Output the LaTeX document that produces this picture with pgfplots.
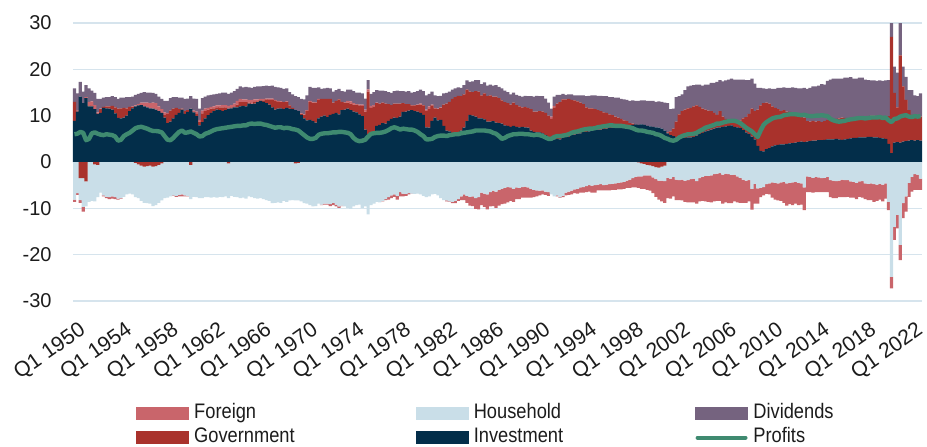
\documentclass[border=0pt]{standalone}
\usepackage{fontspec}
\setmainfont{Liberation Sans}[FakeStretch=0.87]
\newfontfamily\tickfam{Liberation Sans}
\usepackage{pgfplots}
\usepackage{pgfplotstable}
\pgfplotsset{compat=1.18}

\definecolor{fgnc}{RGB}{201,101,107}
\definecolor{govc}{RGB}{169,50,44}
\definecolor{hhc}{RGB}{201,222,232}
\definecolor{invc}{RGB}{3,46,74}
\definecolor{divc}{RGB}{117,99,127}
\definecolor{profc}{RGB}{63,138,112}
\definecolor{gridc}{RGB}{214,228,237}
\definecolor{txt}{RGB}{28,28,28}

% quarterly, 1950Q1 = 0 ... 2022Q4 = 291
\pgfplotstableread{
i inv gov fgn hh div prof
0 8.9 4.1 -0.5 -8.1 2.9 6.0
1 10.9 0.2 -0.4 -6.7 3.7 6.1
2 14.1 -3.5 -0.6 -4.7 3.2 6.5
3 12.7 -3.5 -1.0 -6.2 2.5 6.3
4 13.8 -4.2 0.2 -5.4 2.6 4.7
5 12.0 0.2 0.8 -8.6 2.9 5.0
6 12.0 0.1 1.0 -8.4 2.3 6.2
7 11.4 -0.5 0.9 -8.0 2.6 6.4
8 10.4 -0.6 0.3 -7.0 2.9 6.1
9 10.6 0.8 0.1 -6.6 2.1 5.9
10 11.7 0.2 -0.2 -7.2 2.0 5.8
11 11.6 0.4 -0.3 -7.5 2.0 6.0
12 11.5 0.5 -0.4 -7.6 2.0 5.9
13 11.3 0.8 -0.5 -7.4 2.1 5.8
14 10.5 1.3 -0.4 -7.6 2.2 5.5
15 9.5 2.0 -0.2 -7.9 2.1 4.6
16 9.4 2.2 -0.1 -7.8 2.3 4.8
17 9.6 2.1 0.0 -7.5 2.2 5.6
18 10.0 1.6 0.1 -7.0 2.3 6.0
19 11.0 0.9 0.0 -6.8 2.1 6.3
20 11.6 0.3 0.1 -7.0 2.1 6.8
21 12.0 -0.2 0.2 -7.4 2.3 7.3
22 12.2 -0.5 0.3 -7.3 2.2 7.5
23 12.3 -0.8 0.5 -7.6 2.1 7.6
24 12.0 -1.0 0.8 -7.8 2.3 7.4
25 11.8 -0.9 1.0 -8.0 2.2 7.2
26 11.6 -0.8 1.1 -8.2 2.3 6.9
27 11.5 -1.0 1.3 -8.5 2.1 6.7
28 11.3 -0.9 1.4 -8.4 2.0 6.7
29 11.0 -0.6 1.0 -8.2 2.1 6.6
30 10.6 -0.3 0.8 -8.0 2.2 6.4
31 9.6 0.5 0.6 -7.8 2.5 5.6
32 8.4 2.0 0.2 -7.7 2.6 4.8
33 8.7 2.4 0.0 -7.4 2.7 4.7
34 9.4 2.1 -0.1 -7.2 2.5 5.2
35 10.2 1.5 -0.2 -7.3 2.3 5.9
36 10.6 0.8 -0.3 -7.1 2.5 6.5
37 11.3 0.2 -0.4 -7.0 2.4 6.8
38 10.4 0.6 -0.2 -7.2 2.6 6.3
39 10.8 0.4 -0.1 -7.3 2.5 6.4
40 11.5 -0.6 0.1 -7.4 2.6 6.6
41 10.7 0.1 0.3 -7.5 2.6 6.3
42 9.9 0.5 0.5 -7.6 2.7 6.0
43 7.9 0.8 0.4 -7.8 2.4 5.5
44 8.6 1.9 0.6 -7.8 2.7 5.6
45 9.4 1.6 0.5 -7.6 2.6 6.1
46 10.1 1.2 0.4 -7.6 2.7 6.3
47 10.6 0.9 0.4 -7.7 2.6 6.6
48 11.0 0.6 0.4 -7.6 2.6 6.9
49 11.3 0.4 0.5 -7.7 2.5 7.1
50 11.2 0.6 0.4 -7.5 2.6 7.2
51 11.0 0.8 0.5 -7.6 2.7 7.3
52 11.2 0.5 0.6 -7.4 2.7 7.4
53 11.5 -0.3 0.6 -7.5 2.6 7.5
54 11.6 0.2 0.5 -7.3 2.7 7.6
55 11.8 0.1 0.7 -7.5 2.7 7.7
56 11.8 0.6 0.8 -7.6 2.6 7.8
57 12.0 0.9 0.7 -7.8 2.7 7.8
58 12.1 0.8 0.6 -7.7 2.6 7.9
59 12.0 0.9 0.6 -7.9 2.7 7.9
60 12.6 0.2 0.6 -7.4 2.7 8.2
61 12.5 0.1 0.8 -7.6 2.6 8.3
62 12.6 0.4 0.5 -7.8 2.7 8.2
63 12.9 0.2 0.4 -7.9 2.8 8.3
64 13.2 0.1 0.3 -7.8 2.7 8.3
65 13.0 0.3 0.3 -8.0 2.8 8.1
66 12.7 0.8 0.2 -8.2 2.8 8.0
67 12.4 1.0 0.3 -8.4 2.7 7.8
68 11.8 1.6 0.3 -8.9 2.8 7.6
69 11.3 1.9 0.2 -8.8 2.8 7.4
70 11.5 1.5 0.2 -8.7 2.9 7.5
71 11.6 1.4 0.1 -8.8 2.9 7.5
72 11.4 1.5 0.0 -8.4 2.9 7.3
73 11.7 1.3 0.1 -8.6 2.8 7.4
74 11.5 0.7 0.0 -8.3 2.9 7.3
75 11.4 0.3 0.0 -8.2 2.9 7.1
76 11.2 -0.3 0.0 -8.0 3.0 7.0
77 11.0 -0.2 0.0 -8.1 3.0 6.8
78 10.2 0.2 0.1 -8.5 3.1 6.3
79 9.4 0.8 0.1 -8.9 3.2 5.8
80 9.0 2.0 0.2 -9.0 3.2 5.3
81 9.1 3.8 0.3 -9.3 3.0 5.0
82 8.8 4.0 0.2 -9.6 3.0 5.0
83 8.5 4.3 0.1 -9.5 3.1 5.2
84 9.4 4.0 0.2 -9.0 2.5 5.9
85 9.8 3.8 -0.1 -9.2 2.2 6.1
86 10.0 3.6 -0.2 -9.0 2.3 6.2
87 9.7 3.9 -0.2 -9.0 2.4 6.2
88 10.2 3.4 -0.4 -9.1 2.3 6.3
89 10.4 2.4 -0.5 -8.8 2.4 6.4
90 10.6 2.6 -0.4 -9.2 2.3 6.4
91 10.3 3.2 -0.3 -9.6 2.3 6.5
92 11.2 1.8 -0.1 -9.4 2.3 6.5
93 11.3 1.5 0.1 -9.6 2.3 6.4
94 11.5 1.3 0.4 -9.9 2.4 6.3
95 11.2 1.4 0.5 -10.1 2.5 6.0
96 10.9 1.5 0.3 -9.6 2.6 5.2
97 10.7 1.7 0.1 -9.3 2.5 4.7
98 10.3 1.9 0.2 -9.2 2.6 4.5
99 9.9 2.2 0.3 -9.9 2.4 4.6
100 7.0 3.9 0.4 -9.6 2.4 4.8
101 6.0 9.2 0.5 -11.3 2.0 5.5
102 6.2 5.5 0.4 -9.3 2.6 6.1
103 6.4 5.6 0.3 -9.0 2.8 6.2
104 7.8 4.9 0.1 -8.6 2.7 6.3
105 8.0 4.6 0.0 -8.7 2.8 6.3
106 8.4 4.4 -0.1 -8.4 2.6 6.4
107 8.3 4.3 -0.2 -8.0 2.7 6.6
108 8.9 3.6 -0.5 -7.6 2.6 6.9
109 9.3 3.0 -0.6 -7.2 2.6 7.3
110 9.6 3.0 -0.5 -7.0 2.7 7.5
111 9.5 3.1 -0.8 -7.3 2.8 7.3
112 9.8 2.8 -0.9 -6.5 2.7 7.0
113 10.8 1.9 -0.6 -6.8 2.6 7.2
114 10.9 1.6 -0.4 -6.9 2.7 7.1
115 11.1 1.4 -0.3 -6.7 2.8 7.0
116 11.2 1.0 -0.1 -6.8 2.8 7.0
117 11.0 1.2 0.1 -6.9 2.8 6.8
118 10.9 1.4 0.1 -6.8 2.9 6.5
119 10.6 1.8 0.2 -7.0 3.0 6.0
120 10.2 2.0 0.1 -7.3 3.0 5.6
121 7.5 3.5 0.3 -7.6 3.1 4.9
122 7.4 4.0 0.6 -7.4 2.7 4.9
123 8.9 3.3 0.2 -7.0 2.8 5.0
124 9.6 2.0 0.1 -6.9 2.7 5.4
125 9.0 2.4 0.1 -7.2 2.7 5.6
126 9.1 2.6 0.1 -7.8 2.5 5.7
127 7.8 4.6 0.0 -8.2 2.4 5.7
128 6.8 5.8 -0.2 -8.3 2.3 5.6
129 6.6 6.4 -0.1 -8.5 2.2 5.8
130 6.3 7.3 -0.3 -8.6 2.0 5.9
131 6.0 8.0 -0.5 -8.4 1.9 6.0
132 6.4 7.9 -0.4 -8.0 1.8 6.0
133 6.8 7.4 -0.8 -7.4 1.8 6.2
134 7.4 7.2 -1.2 -7.0 2.0 6.3
135 8.8 6.8 -1.5 -7.3 2.0 6.4
136 10.2 5.0 -1.9 -7.5 2.1 6.5
137 10.0 5.1 -2.1 -7.4 2.3 6.6
138 9.8 5.5 -2.3 -7.8 2.4 6.8
139 9.4 5.8 -2.6 -7.6 2.5 6.8
140 9.4 5.0 -2.7 -6.6 2.4 6.8
141 9.2 5.6 -2.9 -6.8 2.4 6.8
142 8.7 5.5 -3.2 -7.0 2.3 6.7
143 8.7 5.7 -3.1 -6.5 2.3 6.6
144 8.8 5.3 -3.3 -6.2 2.4 6.3
145 8.5 5.6 -3.5 -6.4 2.5 6.1
146 8.4 5.4 -3.4 -6.0 2.4 5.6
147 8.3 5.0 -3.3 -5.8 2.6 5.0
148 7.9 5.0 -3.4 -5.6 2.5 5.2
149 7.8 4.9 -3.3 -5.4 2.4 5.6
150 7.6 4.8 -2.9 -5.5 2.2 5.8
151 7.8 5.0 -2.8 -5.8 2.2 6.0
152 7.6 4.7 -2.5 -5.5 2.2 6.0
153 7.5 4.5 -2.4 -5.6 2.3 6.1
154 7.6 4.2 -2.3 -5.4 2.3 6.1
155 7.5 4.4 -2.4 -5.3 2.4 6.0
156 7.4 4.3 -2.2 -5.5 2.5 6.0
157 6.8 4.6 -1.9 -5.8 2.8 5.9
158 6.5 4.4 -1.6 -6.0 3.2 5.8
159 6.4 4.5 -1.3 -6.1 3.4 5.9
160 6.4 4.6 -1.0 -6.2 3.2 5.8
161 6.2 4.7 -0.9 -6.1 3.3 5.6
162 5.8 4.8 -0.7 -6.4 3.1 5.3
163 5.0 5.0 -0.8 -6.5 2.8 5.0
164 4.8 4.5 0.5 -7.0 1.7 5.0
165 4.9 6.9 0.3 -7.4 2.0 5.4
166 5.0 7.6 -0.2 -7.2 1.9 5.6
167 4.9 8.0 -0.1 -7.6 1.6 5.6
168 5.2 8.3 -0.3 -7.3 1.2 5.7
169 5.5 8.0 -0.6 -6.6 1.0 5.8
170 5.4 8.2 -0.7 -6.4 1.0 6.0
171 5.8 7.6 -0.8 -6.2 1.2 6.3
172 5.9 7.4 -0.8 -5.9 1.1 6.5
173 6.1 7.0 -1.0 -5.8 1.3 6.6
174 6.2 6.6 -1.1 -5.5 1.6 6.8
175 6.5 6.0 -1.2 -5.4 1.9 7.0
176 6.5 5.3 -1.3 -5.2 2.4 7.1
177 6.6 5.0 -1.4 -5.0 2.7 7.2
178 6.7 4.9 -1.5 -5.1 2.8 7.2
179 6.9 4.5 -1.6 -5.0 3.0 7.3
180 7.0 4.2 -1.2 -4.9 3.1 7.5
181 7.0 4.0 -1.3 -4.8 3.3 7.6
182 7.1 3.6 -1.1 -5.0 3.5 7.7
183 7.2 3.4 -1.2 -4.9 3.6 7.8
184 7.3 3.0 -1.3 -4.8 3.7 7.9
185 7.4 2.7 -1.3 -4.7 3.9 7.9
186 7.5 2.3 -1.4 -4.6 4.1 7.8
187 7.6 2.0 -1.4 -4.5 4.3 7.8
188 7.7 1.6 -1.5 -4.4 4.3 7.8
189 7.8 1.2 -1.5 -4.3 4.5 7.7
190 7.9 0.9 -1.6 -4.0 4.6 7.6
191 7.8 0.6 -1.8 -3.8 4.8 7.5
192 8.0 0.3 -2.0 -3.5 5.0 7.3
193 8.1 0.1 -2.3 -3.2 5.0 7.0
194 8.0 -0.1 -2.5 -3.0 5.2 6.8
195 8.1 -0.3 -2.7 -2.8 5.2 6.8
196 8.0 -0.4 -2.9 -2.5 5.3 6.7
197 7.8 -0.6 -3.1 -2.3 5.4 6.5
198 7.7 -0.7 -3.3 -2.2 5.5 6.4
199 7.6 -0.9 -3.4 -2.4 5.6 6.3
200 7.5 -1.1 -3.8 -2.6 5.5 6.0
201 7.4 -1.2 -4.1 -2.8 5.7 5.9
202 7.2 -1.0 -4.5 -3.0 5.8 5.6
203 6.8 -0.8 -4.7 -3.3 6.0 5.2
204 6.2 0.2 -4.4 -3.4 6.3 5.0
205 5.8 0.8 -4.3 -3.6 4.8 4.7
206 5.6 1.6 -4.2 -3.2 4.3 4.6
207 5.3 3.4 -4.4 -3.8 5.3 4.8
208 5.1 5.2 -4.3 -3.9 3.9 5.3
209 5.2 5.8 -4.5 -3.8 3.6 5.6
210 5.2 6.1 -4.6 -4.0 4.2 5.8
211 5.3 6.3 -4.8 -3.9 4.7 6.0
212 5.3 6.4 -5.0 -3.7 4.8 6.0
213 5.4 6.6 -5.1 -3.6 4.6 6.1
214 5.7 6.5 -4.9 -4.1 4.5 6.3
215 6.0 5.9 -5.0 -3.5 4.8 6.7
216 6.3 5.2 -5.2 -3.2 5.0 7.0
217 6.6 4.7 -5.5 -3.0 5.4 7.4
218 6.8 4.3 -5.6 -3.0 5.6 7.6
219 7.0 4.0 -5.8 -2.9 6.1 7.8
220 7.2 3.4 -5.9 -2.6 6.5 8.0
221 7.4 2.8 -5.9 -2.5 7.1 8.3
222 7.5 3.5 -6.0 -2.4 6.7 8.3
223 7.6 2.2 -6.3 -2.7 7.6 8.5
224 7.7 1.6 -6.2 -2.5 8.3 8.7
225 7.8 1.4 -6.3 -2.6 8.6 8.8
226 7.9 1.2 -6.1 -2.8 8.9 8.9
227 7.6 1.0 -5.8 -2.7 9.2 8.9
228 7.5 1.2 -5.6 -3.1 9.1 8.7
229 7.3 1.7 -5.4 -3.4 8.8 8.4
230 6.9 2.5 -5.0 -3.8 8.4 7.9
231 6.4 3.3 -4.8 -4.0 8.0 7.4
232 6.0 4.4 -4.6 -3.9 7.3 7.0
233 5.5 6.0 -4.5 -5.8 6.5 6.6
234 4.9 6.1 -4.3 -4.7 5.9 6.0
235 3.5 7.8 -3.3 -5.7 4.7 5.4
236 2.4 9.8 -2.0 -5.6 3.8 6.8
237 2.3 10.4 -1.8 -5.4 3.2 8.0
238 2.8 10.0 -2.1 -4.8 3.0 8.6
239 3.0 9.6 -2.4 -4.6 3.3 9.0
240 3.4 8.6 -3.3 -4.4 3.8 9.4
241 3.6 8.1 -3.6 -4.5 4.1 9.6
242 3.7 7.7 -3.7 -4.6 4.6 9.7
243 3.8 7.2 -4.0 -4.4 5.0 9.8
244 3.8 7.4 -4.5 -4.3 4.9 10.1
245 3.9 7.0 -4.8 -4.6 5.1 10.2
246 4.0 6.8 -4.6 -4.5 5.2 10.3
247 4.1 6.6 -4.9 -4.4 5.4 10.3
248 4.2 6.3 -4.7 -4.3 5.5 10.3
249 4.3 6.0 -4.8 -4.5 5.6 10.2
250 4.4 5.6 -4.6 -4.6 5.9 10.1
251 4.3 5.3 -4.9 -5.5 6.4 10.2
252 4.4 4.4 -3.4 -3.1 7.0 10.0
253 4.5 4.2 -3.3 -3.2 7.3 9.9
254 4.6 4.3 -3.2 -3.4 7.4 9.9
255 4.6 4.1 -3.3 -3.2 7.6 10.0
256 4.7 4.1 -3.2 -3.3 7.7 10.0
257 4.7 3.9 -3.0 -3.5 8.2 10.1
258 4.8 4.0 -3.1 -3.4 7.9 10.0
259 4.9 4.2 -3.3 -3.2 8.4 9.9
260 4.9 4.4 -3.7 -3.9 8.5 9.3
261 4.9 4.3 -3.8 -4.0 8.8 9.0
262 5.0 4.3 -3.7 -4.1 8.7 8.8
263 4.9 4.5 -3.6 -4.0 8.6 8.7
264 4.8 4.8 -3.8 -3.8 8.4 8.8
265 4.9 4.6 -3.7 -3.9 8.7 8.9
266 5.0 4.4 -3.6 -3.9 8.8 9.1
267 5.1 4.3 -3.5 -4.2 8.9 9.2
268 5.2 4.2 -3.4 -4.3 8.6 9.3
269 5.2 4.4 -3.5 -4.5 8.4 9.4
270 5.3 4.1 -3.3 -4.2 8.8 9.5
271 5.3 4.0 -3.6 -4.1 8.9 9.5
272 5.3 4.3 -3.4 -4.6 8.2 9.4
273 5.4 4.4 -3.5 -4.7 7.9 9.5
274 5.4 4.6 -3.6 -4.6 7.6 9.6
275 5.3 4.7 -3.8 -4.8 7.6 9.6
276 5.3 4.5 -3.5 -4.9 7.7 9.6
277 5.2 4.6 -3.4 -4.7 7.8 9.7
278 5.1 4.8 -3.6 -4.9 7.6 9.5
279 5.0 4.7 -3.3 -4.6 7.9 9.6
280 3.9 6.0 -1.8 -8.6 7.8 9.0
281 1.9 25.1 -2.5 -24.8 8.0 8.6
282 4.2 10.7 -2.8 -14.0 5.7 9.3
283 4.3 7.5 -2.9 -11.4 7.5 9.4
284 4.2 18.8 -3.3 -17.9 8.0 9.8
285 4.4 11.9 -3.2 -8.9 4.3 10.0
286 4.5 8.9 -3.3 -7.4 5.0 10.1
287 4.6 6.6 -3.0 -4.5 4.3 9.8
288 4.7 5.5 -3.2 -3.2 5.3 9.7
289 4.6 5.2 -3.4 -2.6 4.6 9.9
290 4.7 5.0 -3.3 -2.7 4.5 9.8
291 4.6 5.2 -2.4 -3.6 5.0 9.9
}\flows

\pgfplotsset{
  base/.style={
    width=424.5pt, height=139pt, scale only axis,
    xmin=-0.5, xmax=291.5, ymin=-30, ymax=30,
  },
  bars/.style={base, ybar stacked, bar width=1.1},
}
\newcommand\tickfont{\tickfam\fontsize{10}{12}\selectfont}
\newcommand\xtickfont{\tickfam\fontsize{10.6}{12}\selectfont}
\newcommand\legfont{\fontsize{10.5}{12}\selectfont}

\begin{document}
\begin{tikzpicture}
\useasboundingbox (-36.5pt,-72.5pt) rectangle (427pt,150.5pt);

% positive side: investment, government, foreign, dividends
\begin{axis}[bars,
  axis line style={draw=none}, major tick style={draw=none},
  ymajorgrids, grid style={gridc, line width=0.6pt},
  ytick={-30,-20,...,30},
  yticklabels={-30,-20,-10,0,10,20,30},
  yticklabel style={inner sep=0pt, xshift=-10.5pt, font=\tickfont, text=txt},
  xtick={0,16,...,288},
  xticklabels={Q1 1950,Q1 1954,Q1 1958,Q1 1962,Q1 1966,Q1 1970,Q1 1974,
    Q1 1978,Q1 1982,Q1 1986,Q1 1990,Q1 1994,Q1 1998,Q1 2002,Q1 2006,
    Q1 2010,Q1 2014,Q1 2018,Q1 2022},
  xticklabel style={xshift=1.8pt, yshift=-9.6pt, rotate=35, anchor=north east,
    inner sep=0pt, font=\xtickfont, text=txt},
  legend columns=3,
  legend style={at={(0.0742,-0.3695)}, anchor=north west, draw=none, fill=none,
    inner sep=0pt, outer sep=0pt, column sep=0pt, row sep=2pt,
    nodes={text width=108pt, inner xsep=2.7pt, inner ysep=0pt,
      text height=7.6pt, text depth=2.4pt, font=\legfont, text=txt}},
  legend cell align=left,
]
\addplot[fill=invc, draw=none, forget plot] table[x=i, y=inv] {\flows};
\addplot[fill=govc, draw=none, forget plot] table[x=i, y expr={max(\thisrow{gov},0)}] {\flows};
\addplot[fill=fgnc, draw=none, forget plot] table[x=i, y expr={max(\thisrow{fgn},0)}] {\flows};
\addplot[fill=divc, draw=none, forget plot] table[x=i, y=div] {\flows};

\addlegendimage{legend image code/.code={\fill[fgnc] (0pt,-3pt) rectangle (26pt,3pt);}}
\addlegendentry{Foreign}
\addlegendimage{legend image code/.code={\fill[hhc] (0pt,-3pt) rectangle (26pt,3pt);}}
\addlegendentry{Household}
\addlegendimage{legend image code/.code={\fill[divc] (0pt,-3pt) rectangle (26pt,3pt);}}
\addlegendentry{Dividends}
\addlegendimage{legend image code/.code={\fill[govc] (0pt,-3pt) rectangle (26pt,3pt);}}
\addlegendentry{Government}
\addlegendimage{legend image code/.code={\fill[invc] (0pt,-3pt) rectangle (26pt,3pt);}}
\addlegendentry{Investment}
\addlegendimage{legend image code/.code={\draw[profc, line width=2.2pt, line cap=round] (1.1pt,0pt) -- (24.9pt,0pt);}}
\addlegendentry{Profits}
\end{axis}

% negative side: government, household, foreign
\begin{axis}[bars, hide axis]
\addplot[fill=govc, draw=none] table[x=i, y expr={min(\thisrow{gov},0)}] {\flows};
\addplot[fill=hhc, draw=none] table[x=i, y=hh] {\flows};
\addplot[fill=fgnc, draw=none] table[x=i, y expr={min(\thisrow{fgn},0)}] {\flows};
\end{axis}

% profits line
\begin{axis}[base, hide axis]
\addplot[profc, line width=2.2pt, line join=round, mark=none] table[x=i, y=prof] {\flows};
\end{axis}
\end{tikzpicture}
\end{document}
